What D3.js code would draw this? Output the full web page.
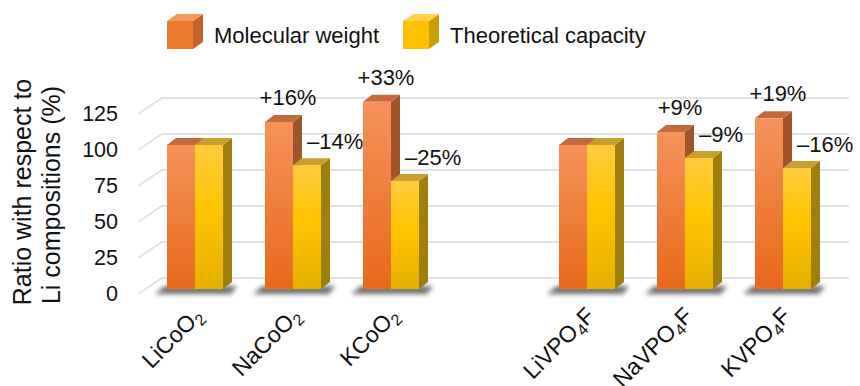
<!DOCTYPE html>
<html>
<head>
<meta charset="utf-8">
<script src="https://cdn.jsdelivr.net/npm/d3@7"></script>
<style>
  body { margin: 0; background: #fff; }
  text { font-family: "Liberation Sans", Arial, sans-serif; fill: #111; }
</style>
</head>
<body>
<div id="container"></div>
<script>
const width = 860,
  height = 386,
  margin = { top: 145, bottom: 97, left: 146, right: 28 };

/* DATA */
const categories = ["LiCoO2", "NaCoO2", "KCoO2", "", "LiVPO4F", "NaVPO4F", "KVPO4F"];
const molecularWeight = [100, 116, 130, null, 100, 109, 118.5];
const theoreticalCapacity = [100, 86, 75, null, 100, 91, 84];
const mwLabels = ["", "+16%", "+33%", "", "", "+9%", "+19%"];
const tcLabels = ["", "\u201314%", "\u201325%", "", "", "\u20139%", "\u201316%"];
const yTicks = [0, 25, 50, 75, 100, 125];
const seriesNames = ["Molecular weight", "Theoretical capacity"];

// 3d look
const depth = { x: 24, y: -16 },   // floor / wall depth
  barDepth = { x: 9, y: -7 },
  barW = 28;

const palette = {
  orange: { front: ["#f5925a", "#e8691c"], top: "#c4693e", side: "#a0542a" },
  yellow: { front: ["#ffcb3c", "#e6b000"], top: "#c9a030", side: "#a0800c" }
};

/* SCALES */
const xScale = d3.scaleBand()
  .domain(categories.map((d, i) => i))
  .range([margin.left, width - margin.right]);

const yScale = d3.scaleLinear()
  .domain([0, 100])
  .range([height - margin.bottom, margin.top]);

const svg = d3.select("#container")
  .append("svg")
  .attr("width", width)
  .attr("height", height);

const defs = svg.append("defs");
["orange", "yellow"].forEach(k => {
  const g = defs.append("linearGradient")
    .attr("id", "grad-" + k)
    .attr("x1", 0).attr("y1", 0).attr("x2", 0).attr("y2", 1);
  g.append("stop").attr("offset", "0%").attr("stop-color", palette[k].front[0]);
  if (k === "yellow") g.append("stop").attr("offset", "45%").attr("stop-color", "#ffc400");
  g.append("stop").attr("offset", "100%").attr("stop-color", palette[k].front[1]);
});
defs.append("filter").attr("id", "blur")
  .attr("x", "-30%").attr("y", "-100%").attr("width", "160%").attr("height", "300%")
  .append("feGaussianBlur").attr("stdDeviation", 2.6);

/* GRID (floor + back wall) */
const wallLeft = margin.left - 8,
  wallRight = 849;
const grid = svg.append("g");
yTicks.forEach(v => {
  const yf = yScale(v) + 5;
  grid.append("polyline")
    .attr("points", `${wallLeft},${yf} ${wallLeft + depth.x},${yf + depth.y} ${wallRight},${yf + depth.y}`)
    .attr("fill", "none")
    .attr("stroke", "#d9d9d9")
    .attr("stroke-width", 1.3);
});

/* Y AXIS LABELS */
svg.append("g")
  .selectAll("text")
  .data(yTicks)
  .join("text")
  .attr("x", 118)
  .attr("y", d => yScale(d) + 6)
  .attr("text-anchor", "end")
  .attr("dominant-baseline", "middle")
  .attr("font-size", 21.5)
  .text(d => d);

svg.append("text")
  .attr("transform", "translate(31,192) rotate(-90)")
  .attr("text-anchor", "middle")
  .attr("font-size", 25)
  .text("Ratio with respect to");
svg.append("text")
  .attr("transform", "translate(60,195) rotate(-90)")
  .attr("text-anchor", "middle")
  .attr("font-size", 25)
  .text("Li compositions (%)");

/* BARS */
function drawBar(g, x0, v, key) {
  const c = palette[key];
  const y0 = yScale(0), y1 = yScale(v);
  // side
  g.append("polygon")
    .attr("points", `${x0 + barW},${y1} ${x0 + barW + barDepth.x},${y1 + barDepth.y} ${x0 + barW + barDepth.x},${y0 + barDepth.y} ${x0 + barW},${y0}`)
    .attr("fill", c.side);
  // top
  g.append("polygon")
    .attr("points", `${x0},${y1} ${x0 + barDepth.x},${y1 + barDepth.y} ${x0 + barW + barDepth.x},${y1 + barDepth.y} ${x0 + barW},${y1}`)
    .attr("fill", c.top);
  // front
  g.append("rect")
    .attr("x", x0).attr("y", y1)
    .attr("width", barW).attr("height", y0 - y1)
    .attr("fill", `url(#grad-${key})`);
}

const bars = svg.append("g");
categories.forEach((cat, i) => {
  if (molecularWeight[i] == null) return;
  const cx = xScale(i) + xScale.bandwidth() / 2;
  // shadow
  bars.append("polygon")
    .attr("points", `${cx - 40},${yScale(0) + 5} ${cx - 30},${yScale(0) - 3} ${cx + 42},${yScale(0) - 3} ${cx + 36},${yScale(0) + 5}`)
    .attr("fill", "#3a3a3a")
    .attr("opacity", 0.75)
    .attr("filter", "url(#blur)");
  const g = bars.append("g");
  drawBar(g, cx - barW, molecularWeight[i], "orange");
  drawBar(g, cx, theoreticalCapacity[i], "yellow");

  if (mwLabels[i]) {
    svg.append("text")
      .attr("x", cx - barW / 2 + 9)
      .attr("y", yScale(molecularWeight[i]) - 17)
      .attr("text-anchor", "middle")
      .attr("font-size", 22)
      .text(mwLabels[i]);
  }
  if (tcLabels[i]) {
    svg.append("text")
      .attr("x", cx + 14)
      .attr("y", yScale(theoreticalCapacity[i]) - 16)
      .attr("font-size", 22)
      .text(tcLabels[i]);
  }
});

/* X LABELS with subscripts */
const xl = svg.append("g");
categories.forEach((cat, i) => {
  if (!cat) return;
  const cx = xScale(i) + xScale.bandwidth() / 2;
  const t = xl.append("text")
    .attr("transform", `translate(${cx + 9},317) rotate(-45)`)
    .attr("text-anchor", "end")
    .attr("font-size", 23);
  const parts = cat.match(/[A-Za-z]+|\d+/g);
  let sub = false;
  parts.forEach(p => {
    const isNum = /\d/.test(p);
    t.append("tspan")
      .attr("font-size", isNum ? 16 : 23)
      .attr("dy", isNum ? 5 : (sub ? -5 : 0))
      .text(p);
    sub = isNum;
  });
});

/* LEGEND */
const legend = svg.append("g");
const legendItems = [
  { name: seriesNames[0], x: 167, front: "#ee7b30", top: "#f29a60", side: "#c5622a" },
  { name: seriesNames[1], x: 403, front: "#ffc000", top: "#ffd24a", side: "#c9a000" }
];
legendItems.forEach(d => {
  const s = 26, h = 28, dx = 10, dy = 7, y = 21;
  legend.append("polygon")
    .attr("points", `${d.x + s},${y} ${d.x + s + dx},${y - dy} ${d.x + s + dx},${y + h - dy} ${d.x + s},${y + h}`)
    .attr("fill", d.side);
  legend.append("polygon")
    .attr("points", `${d.x},${y} ${d.x + dx},${y - dy} ${d.x + s + dx},${y - dy} ${d.x + s},${y}`)
    .attr("fill", d.top);
  legend.append("rect")
    .attr("x", d.x).attr("y", y).attr("width", s).attr("height", h)
    .attr("fill", d.front);
  legend.append("text")
    .attr("x", d.x + 47)
    .attr("y", 43)
    .attr("font-size", 22)
    .text(d.name);
});
</script>
</body>
</html>
